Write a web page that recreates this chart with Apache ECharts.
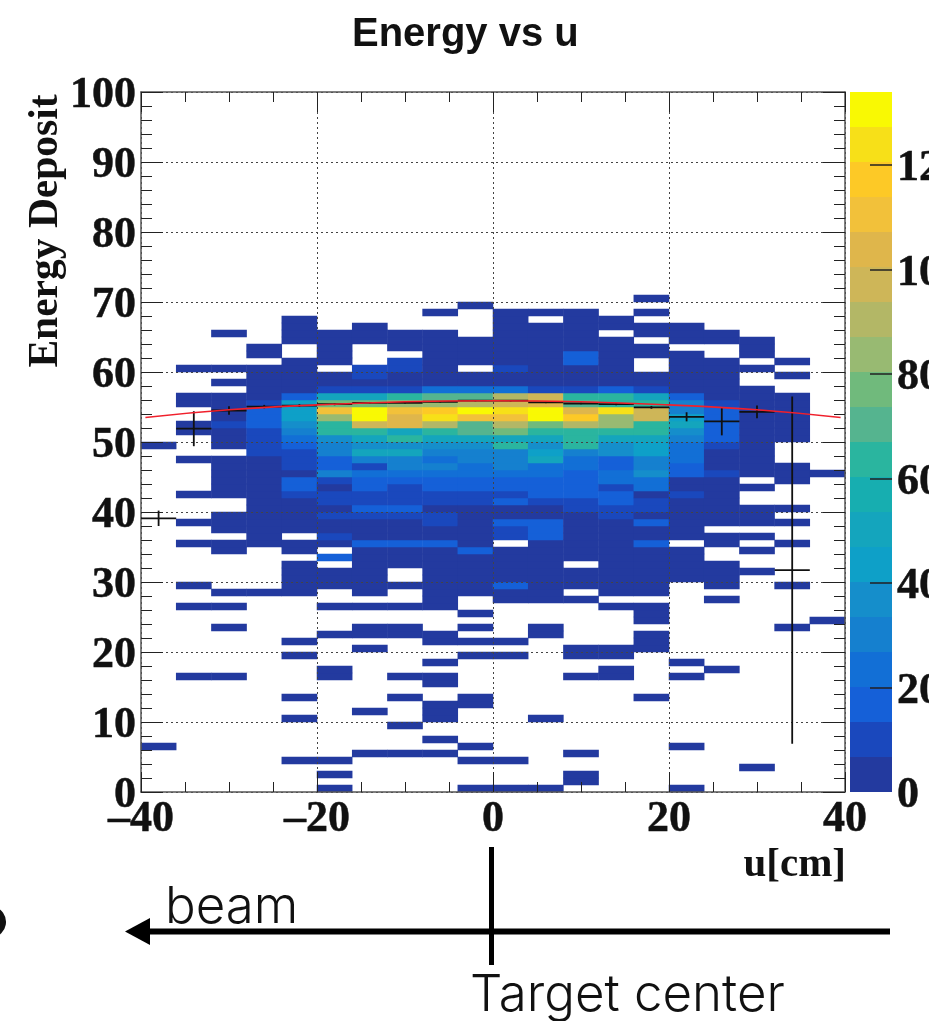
<!DOCTYPE html>
<html>
<head>
<meta charset="utf-8">
<title>Energy vs u</title>
<style>
  html, body { margin: 0; padding: 0; background: #fff; overflow: hidden; }
  #chart { width: 929px; height: 1021px; filter: blur(0.5px); }
</style>
<script src="https://cdn.jsdelivr.net/npm/echarts@6/dist/echarts.min.js"></script>
</head>
<body>
<div id="chart"></div>
<script>
// each column is one 4 cm wide bin in u, runs are [first row, last row, counts]
// rows are 1 unit of energy deposit high, row n covers n..n+1
const col00 = [[6,6,3],[49,49,3]];
const col01 = [[16,16,3],[26,26,3],[29,29,3],[35,35,3],[38,38,3],[42,42,3],[47,47,3],[51,52,3],[55,56,3],[60,60,3]];
const col02 = [[16,16,3],[23,23,3],[26,26,3],[28,28,3],[34,35,3],[37,39,3],[42,47,3],[49,51,3],[52,52,10],[53,56,3],[58,58,3],[60,60,3],[65,65,3]];
const col03 = [[28,28,3],[35,47,3],[48,51,10],[52,54,17],[55,55,10],[56,60,3],[62,63,3]];
const col04 = [[4,4,3],[10,10,3],[13,13,3],[19,19,3],[21,21,3],[28,32,3],[34,35,3],[37,41,3],[42,42,10],[43,44,17],[45,45,3],[46,48,10],[49,49,17],[50,50,23],[51,51,30],[52,52,37],[53,55,44],[56,56,17],[57,61,3],[64,67,3]];
const col05 = [[0,0,3],[2,2,3],[4,4,3],[16,17,3],[22,22,3],[26,26,3],[29,31,3],[33,33,17],[35,35,3],[36,36,10],[37,38,3],[39,39,10],[40,40,3],[41,42,10],[43,43,3],[44,44,10],[45,45,30],[46,47,17],[48,49,30],[50,50,37],[51,52,64],[53,53,84],[54,54,108],[55,55,77],[56,56,50],[57,57,10],[58,59,3],[61,65,3]];
const col06 = [[5,5,3],[11,11,3],[20,20,3],[22,23,3],[26,26,3],[28,34,3],[35,35,17],[36,38,3],[39,39,10],[40,40,17],[41,42,10],[43,44,17],[45,45,23],[46,46,10],[47,47,30],[48,48,50],[49,49,37],[50,50,50],[51,51,64],[52,52,97],[53,54,131],[55,55,77],[56,56,50],[57,57,10],[58,58,3],[59,60,10],[64,66,3]];
const col07 = [[5,5,3],[9,9,3],[13,13,3],[16,16,3],[22,23,3],[26,26,3],[29,29,3],[32,34,3],[35,35,17],[36,38,3],[39,39,10],[40,40,17],[41,43,10],[44,44,17],[45,45,23],[46,47,30],[48,48,50],[49,49,37],[50,50,64],[51,51,50],[52,53,104],[54,54,111],[55,55,84],[56,56,64],[57,57,10],[58,59,3],[60,61,10],[63,65,3]];
const col08 = [[5,5,3],[7,7,3],[10,12,3],[15,16,3],[18,18,3],[21,22,3],[26,34,3],[35,35,17],[36,37,3],[38,39,10],[40,40,3],[41,42,10],[43,44,17],[45,45,23],[46,46,30],[47,47,23],[48,48,30],[49,49,37],[50,50,50],[51,51,64],[52,52,91],[53,53,124],[54,54,117],[55,55,84],[56,56,70],[57,57,23],[58,65,3],[68,68,3]];
const col09 = [[0,0,3],[4,4,3],[6,6,3],[12,13,3],[19,19,3],[21,21,3],[23,23,3],[25,25,3],[28,33,3],[34,34,17],[35,40,3],[41,42,10],[43,44,17],[45,46,23],[47,48,30],[49,49,37],[50,50,50],[51,52,70],[53,53,111],[54,54,131],[55,55,91],[56,56,70],[57,57,23],[58,59,3],[61,64,3],[69,69,3]];
const col10 = [[0,0,3],[4,4,3],[19,19,3],[21,21,3],[27,28,3],[29,29,17],[30,34,3],[36,37,10],[38,38,17],[39,40,3],[41,41,17],[42,42,10],[43,44,17],[45,45,23],[46,48,30],[49,49,64],[50,50,50],[51,51,77],[52,52,91],[53,53,111],[54,54,124],[55,55,97],[56,56,91],[57,57,23],[58,59,3],[60,60,10],[61,68,3]];
const col11 = [[0,0,3],[10,10,3],[22,23,3],[27,35,3],[36,38,17],[39,40,3],[41,41,10],[42,44,17],[45,46,23],[47,47,50],[48,48,44],[49,49,37],[50,50,50],[51,51,64],[52,52,77],[53,54,131],[55,55,104],[56,56,97],[57,57,10],[58,66,3],[68,68,3]];
const col12 = [[1,2,3],[5,5,3],[16,16,3],[19,20,3],[27,27,3],[29,31,3],[33,39,3],[40,41,10],[42,45,17],[46,47,23],[48,48,30],[49,51,64],[52,52,91],[53,53,117],[54,54,104],[55,55,70],[56,56,64],[57,57,10],[58,60,3],[61,62,17],[63,68,3]];
const col13 = [[16,17,3],[19,20,3],[26,26,3],[28,38,3],[39,40,10],[41,42,17],[43,43,10],[44,45,23],[46,47,17],[48,49,37],[50,50,50],[51,51,64],[52,53,84],[54,54,124],[55,56,64],[57,57,17],[58,64,3],[66,67,3]];
const col14 = [[13,13,3],[20,22,3],[24,26,3],[28,34,3],[35,35,17],[36,37,3],[38,38,17],[39,39,3],[40,41,10],[42,42,3],[43,44,23],[45,45,37],[46,47,30],[48,49,44],[50,50,50],[51,52,64],[53,54,97],[55,55,64],[56,56,50],[57,57,10],[58,59,3],[62,63,3],[65,66,3],[68,68,3],[70,70,3]];
const col15 = [[0,0,3],[6,6,3],[16,16,3],[18,18,3],[30,34,3],[36,41,3],[42,42,10],[43,44,3],[45,46,17],[47,49,23],[50,50,30],[51,51,37],[52,52,50],[53,53,44],[54,55,30],[56,56,17],[57,62,3],[64,66,3]];
const col16 = [[17,17,3],[27,27,3],[29,32,3],[35,36,3],[38,44,3],[45,45,10],[46,48,3],[49,49,10],[50,54,17],[55,55,10],[56,61,3],[64,65,3]];
const col17 = [[3,3,3],[31,31,3],[34,34,3],[36,36,3],[38,40,3],[43,43,3],[45,57,3],[60,60,3],[62,64,3]];
const col18 = [[23,23,3],[29,29,3],[35,35,3],[38,38,3],[40,40,3],[44,46,3],[50,56,3],[59,59,3],[61,61,3]];
const col19 = [[24,24,3],[45,45,3]];
const columns = [col00, col01, col02, col03, col04, col05, col06, col07, col08, col09,
  col10, col11, col12, col13, col14, col15, col16, col17, col18, col19];

// profile of the histogram, one cross per column
const profU = [-38, -34, -30, -26, -22, -18, -14, -10, -6, -2, 2, 6, 10, 14, 18, 22, 26, 30, 34];
const profMean = [39.1, 51.9, 54.5, 55.05, 55.2, 55.4, 55.6, 55.6, 55.75, 55.9, 55.9, 55.65, 55.5, 55.4, 54.95, 53.6, 52.95, 54.3, 31.7];
const profErr = [1.1, 2.5, 0.6, 0.25, 0.2, 0.15, 0.12, 0.1, 0.1, 0.1, 0.1, 0.1, 0.12, 0.15, 0.2, 0.65, 2, 0.9, 24.8];

// red fit curve
const fitU = [-39.5, -30, -20, -10, 0, 10, 20, 30, 39.5];
const fitE = [53.5, 54.6, 55.3, 55.75, 55.9, 55.75, 55.3, 54.6, 53.5];

// colour scale, 20 contours from the bottom of the palette up
const zMax = 134;
const zTicks = [20, 40, 60, 80, 100, 120];
const zLabels = [0, 20, 40, 60, 80, 100, 120];
const palette = ['#233a9f', '#1a48bd', '#1560d8', '#126fd6', '#1580cf', '#158ecb', '#0ea0c8', '#14a5bd',
  '#17aeb0', '#2ab59f', '#55b48f', '#70ba7c', '#98ba72', '#b3b766', '#ceb658', '#dfb64b',
  '#f2c13a', '#fdc926', '#f7e018', '#f9f903'];

const FG = '#111';
const serif = '"Liberation Serif", serif';
const sans = 'Inter, sans-serif';

const heatData = [];
columns.forEach((runs, c) => {
  runs.forEach(run => {
    for (let r = run[0]; r <= run[1]; r++) heatData.push([c, r, run[2]]);
  });
});

const pieces = palette.map((color, i) => ({
  gte: zMax / palette.length * i,
  lt: zMax / palette.length * (i + 1),
  color: color
}));

const chart = echarts.init(document.getElementById('chart'), null, { renderer: 'canvas' });

const uLabel = v => (v < 0 ? '\u2013' + (-v) : String(v));

// tick label look, same on all three axes
const tickText = {
  fontFamily: serif, fontWeight: 'bold', fontSize: 44, color: FG,
  textBorderColor: FG, textBorderWidth: 0.5
};
// the digits sit a little below the tick in the picture, rich padding pushes them down
const yTickText = {
  margin: 5,
  formatter: v => '{t|' + v + '}',
  verticalAlignMinLabel: 'middle',
  verticalAlignMaxLabel: 'middle',
  rich: { t: Object.assign({ padding: [8, 0, 0, 0] }, tickText) }
};

// axis pieces shared by the drawn frame
const frameLine = { show: true, onZero: false, lineStyle: { color: '#555', width: 1.5 } };
const xBase = {
  type: 'value', gridIndex: 0, min: -40, max: 40, interval: 20, z: 5,
  axisLine: frameLine,
  axisTick: { show: true, inside: true, length: 20, lineStyle: { color: '#222', width: 1 } },
  minorTick: { show: true, splitNumber: 4, length: 10, lineStyle: { color: '#222', width: 1 } }
};
const yBase = {
  type: 'value', gridIndex: 0, min: 0, max: 100, interval: 10, z: 5,
  axisLine: frameLine,
  axisTick: { show: true, inside: true, length: 22, lineStyle: { color: '#222', width: 1 } },
  minorTick: { show: true, splitNumber: 5, length: 11, lineStyle: { color: '#222', width: 1 } }
};
const gridDots = { show: true, lineStyle: { color: '#444', width: 1, type: [2, 3] } };

chart.setOption({
  animation: false,
  title: {
    text: 'Energy vs u', left: 347, top: 10,
    textStyle: { fontFamily: '"Liberation Sans", sans-serif', fontWeight: 'bold', fontSize: 40, color: FG }
  },
  grid: [
    { left: 141, top: 92, width: 704, height: 700, outerBoundsMode: 'none' },
    { left: 850, top: 92, width: 42, height: 700, outerBoundsMode: 'none' }
  ],
  xAxis: [
    Object.assign({}, xBase, {
      position: 'bottom', splitLine: gridDots,
      axisLabel: Object.assign({ formatter: uLabel, margin: 6 }, tickText)
    }),
    Object.assign({}, xBase, { position: 'top', axisLabel: { show: false }, splitLine: { show: false } }),
    { type: 'category', gridIndex: 0, show: false, data: columns.map((c, i) => i) },
    { type: 'value', gridIndex: 1, show: false, min: 0, max: 1 }
  ],
  yAxis: [
    Object.assign({}, yBase, { position: 'left', splitLine: gridDots, axisLabel: yTickText }),
    Object.assign({}, yBase, { position: 'right', axisLabel: { show: false }, splitLine: { show: false } }),
    { type: 'category', gridIndex: 0, show: false, data: Array.from({ length: 100 }, (v, i) => i) },
    {
      type: 'value', gridIndex: 1, position: 'right', min: 0, max: zMax, interval: 20, z: 6,
      axisLine: { show: false, onZero: false },
      splitLine: { show: false },
      axisTick: { show: true, inside: true, length: 22, customValues: zTicks, lineStyle: { color: '#222', width: 1.5 } },
      axisLabel: Object.assign({}, yTickText, { customValues: zLabels })
    }
  ],
  visualMap: {
    type: 'piecewise',
    seriesIndex: 0,
    dimension: 2,
    pieces: pieces,
    orient: 'vertical',
    left: 850,
    top: 92,
    padding: 0,
    itemWidth: 42,
    itemHeight: 35,
    itemGap: 0,
    itemSymbol: 'rect',
    showLabel: false,
    selectedMode: false,
    hoverLink: false
  },
  series: [
    {
      type: 'heatmap',
      xAxisIndex: 2,
      yAxisIndex: 2,
      data: heatData,
      z: 2
    },
    {
      type: 'custom',
      xAxisIndex: 0,
      yAxisIndex: 0,
      clip: false,
      z: 7,
      data: profU.map((u, i) => [u, profMean[i], profErr[i]]),
      renderItem: (params, api) => {
        const u = api.value(0), m = api.value(1), e = api.value(2);
        const a = api.coord([u - 2, m]), b = api.coord([u + 2, m]);
        const c = api.coord([u, m + e]), d = api.coord([u, m - e]);
        const style = { stroke: '#111', lineWidth: 1.8 };
        return {
          type: 'group',
          children: [
            { type: 'line', shape: { x1: a[0], y1: a[1], x2: b[0], y2: b[1] }, style: style },
            { type: 'line', shape: { x1: c[0], y1: c[1], x2: d[0], y2: d[1] }, style: style }
          ]
        };
      }
    },
    {
      type: 'line',
      xAxisIndex: 0,
      yAxisIndex: 0,
      data: fitU.map((u, i) => [u, fitE[i]]),
      smooth: true,
      symbol: 'none',
      lineStyle: { color: '#f0202c', width: 1.6 },
      z: 8
    }
  ],
  graphic: [
    {
      type: 'text', x: 46, y: 231, rotation: Math.PI / 2, originX: 0, originY: 0,
      style: { text: 'Energy Deposit', font: 'bold 41.5px ' + serif, fill: FG, align: 'center', verticalAlign: 'middle' }
    },
    {
      type: 'text', x: 846, y: 865,
      style: { text: 'u[cm]', font: 'bold 41px ' + serif, fill: FG, align: 'right', verticalAlign: 'middle' }
    },
    // beam annotation under the plot
    { type: 'line', shape: { x1: 491.5, y1: 847, x2: 491.5, y2: 965 }, style: { stroke: '#000', lineWidth: 5 } },
    { type: 'line', shape: { x1: 890, y1: 931.5, x2: 145, y2: 931.5 }, style: { stroke: '#000', lineWidth: 6 } },
    { type: 'polygon', shape: { points: [[125, 931.5], [150, 918], [150, 945]] }, style: { fill: '#000' } },
    {
      type: 'text', x: 165, y: 908,
      style: { text: 'beam', font: '300 51px ' + sans, fill: '#111', verticalAlign: 'middle' }
    },
    {
      type: 'text', x: 470, y: 996,
      style: { text: 'Target center', font: '300 51px ' + sans, fill: '#111', verticalAlign: 'middle' }
    },
    // sliver of a clipped glyph on the left edge
    {
      type: 'arc', shape: { cx: -10, cy: 922, r: 13, startAngle: -1.4, endAngle: 1.4 },
      style: { stroke: '#111', fill: 'none', lineWidth: 6 }
    }
  ]
});
</script>
</body>
</html>
